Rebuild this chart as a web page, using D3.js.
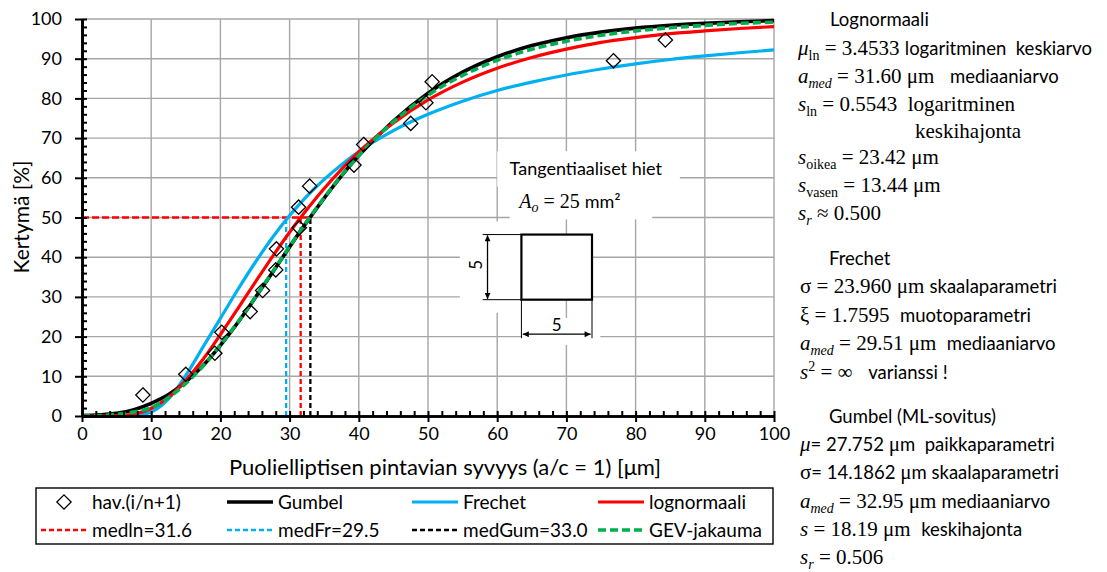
<!DOCTYPE html>
<html>
<head>
<meta charset="utf-8">
<script src="https://cdn.jsdelivr.net/npm/d3@7"></script>
<style>
  body { margin: 0; background: #fff; }
  text { white-space: pre; }
</style>
</head>
<body>
<div id="chart"></div>
<script>
// data
var depth   = [0, 2.5, 5, 7.5, 10, 12.5, 15, 17.5, 20, 22.5, 25, 27.5, 30, 32.5, 35, 37.5, 40, 45, 50, 55, 60, 65, 70, 75, 80, 85, 90, 95, 100];
var gumbel  = [0.1, 0.3, 0.7, 1.6, 3.2, 5.4, 8.6, 12.7, 17.8, 23.5, 29.7, 36.1, 42.6, 48.9, 54.9, 60.5, 65.6, 74.3, 81.3, 86.6, 90.5, 93.3, 95.3, 96.7, 97.7, 98.4, 98.9, 99.3, 99.6];
var frechet = [0, 0, 0, 0.1, 1.0, 4.3, 10.2, 17.4, 24.6, 31.8, 38.6, 44.9, 50.5, 55.4, 59.6, 63.3, 66.6, 71.9, 76.0, 79.3, 82.0, 84.1, 85.9, 87.4, 88.7, 89.8, 90.7, 91.5, 92.2];
var lognorm = [0, 0, 0.1, 0.5, 1.9, 4.7, 9.0, 14.3, 20.5, 27.0, 33.6, 40.1, 46.3, 52.0, 57.3, 62.1, 66.5, 73.8, 79.6, 84.1, 87.6, 90.3, 92.4, 94.1, 95.3, 96.3, 97.0, 97.6, 98.1];
var gev     = [0, 0.1, 0.4, 1.0, 2.1, 4.6, 8.2, 12.6, 17.9, 23.6, 29.8, 36.2, 42.7, 49.0, 55.0, 60.6, 65.6, 74.1, 80.8, 85.8, 89.6, 92.4, 94.4, 95.9, 97.0, 97.8, 98.4, 98.9, 99.2];

var obsDepth = [8.8, 15.0, 19.2, 20.2, 24.3, 26.1, 28.0, 28.1, 31.4, 31.3, 32.9, 39.3, 40.7, 47.5, 49.7, 50.6, 76.8, 84.3];
var obsCdf   = [5.3, 10.5, 15.8, 21.1, 26.3, 31.6, 36.8, 42.1, 47.4, 52.6, 57.9, 63.2, 68.4, 73.7, 78.9, 84.2, 89.5, 94.7];

var medNames  = ["medln", "medFr", "medGum"];
var medValues = [31.6, 29.5, 33.0];
var medLevel  = 50;

var xTicks = [0, 10, 20, 30, 40, 50, 60, 70, 80, 90, 100];
var yTicks = [0, 10, 20, 30, 40, 50, 60, 70, 80, 90, 100];

var legendLabels = ["hav.(i/n+1)", "Gumbel", "Frechet", "lognormaali",
                    "medln=31.6", "medFr=29.5", "medGum=33.0", "GEV-jakauma"];

// colours / fonts
var cBlack = "#000000", cBlue = "#00b0f0", cRed = "#ff0000", cGreen = "#00b050";
var sans = "Lato, 'Open Sans', sans-serif";
var serif = "'Liberation Serif', 'DejaVu Serif', serif";

// set the dimensions and margins of the graph
var margin = {top: 19, right: 333, bottom: 156, left: 82},
    width = 1107 - margin.left - margin.right,
    height = 572 - margin.top - margin.bottom;

var root = d3.select("#chart")
  .append("svg")
    .attr("width", 1107)
    .attr("height", 572);

var svg = root.append("g")
    .attr("transform", "translate(" + margin.left + "," + margin.top + ")");

var x = d3.scaleLinear().domain([0, 100]).range([0, width]);
var y = d3.scaleLinear().domain([0, 100]).range([height, 0]);

// arrow head for the little sketch
var defs = root.append("defs");
defs.append("marker")
    .attr("id", "arr")
    .attr("viewBox", "0 0 10 10")
    .attr("refX", 10).attr("refY", 5)
    .attr("markerWidth", 9).attr("markerHeight", 6)
    .attr("markerUnits", "userSpaceOnUse")
    .attr("orient", "auto-start-reverse")
  .append("path")
    .attr("d", "M0,0L10,5L0,10z")
    .attr("fill", "#000");

// grid
var grid = svg.append("g");
grid.selectAll("line.v").data(xTicks.slice(1)).enter().append("line")
    .attr("x1", function(d) { return x(d); }).attr("x2", function(d) { return x(d); })
    .attr("y1", 0).attr("y2", height)
    .attr("stroke", "#a6a6a6").attr("stroke-width", 1.4);
grid.selectAll("line.h").data(yTicks.slice(1)).enter().append("line")
    .attr("x1", 0).attr("x2", width)
    .attr("y1", function(d) { return y(d); }).attr("y2", function(d) { return y(d); })
    .attr("stroke", "#a6a6a6").attr("stroke-width", 1.4);

// white patches of the inset (cover grid)
var patches = [[60.0, 66.7, 86.4, 57.8], [61.8, 57.9, 82.4, 49.5], [54.6, 49.0, 63.5, 26.0], [63.5, 24.7, 74.9, 17.9]];
svg.append("g").selectAll("rect").data(patches).enter().append("rect")
    .attr("x", function(d) { return x(d[0]); })
    .attr("y", function(d) { return y(d[1]); })
    .attr("width", function(d) { return x(d[2]) - x(d[0]); })
    .attr("height", function(d) { return y(d[3]) - y(d[1]); })
    .attr("fill", "#fff");

// inset sketch
var ins = svg.append("g").attr("font-family", sans).attr("fill", "#000");
ins.append("text")
    .attr("x", x(72.8)).attr("y", y(60.6))
    .attr("text-anchor", "middle")
    .style("font-size", "18px")
    .text("Tangentiaaliset hiet");
var ao = ins.append("text")
    .attr("x", x(70.5)).attr("y", y(52.4))
    .attr("text-anchor", "middle")
    .style("font-size", "20px");
ao.append("tspan").attr("font-family", serif).attr("font-style", "italic").text("A");
ao.append("tspan").attr("font-family", serif).attr("font-style", "italic").style("font-size", "14px").attr("dy", 4).text("o");
ao.append("tspan").attr("font-family", serif).attr("dy", -4).text(" = 25 ");
ao.append("tspan").attr("font-family", sans).style("font-size", "18px").text("mm²");

ins.append("rect")
    .attr("x", x(63.5)).attr("y", y(45.7))
    .attr("width", x(73.7) - x(63.5)).attr("height", y(29.3) - y(45.7))
    .attr("fill", "#fff").attr("stroke", "#000").attr("stroke-width", 2.2);
var dims = [
  [57.9, 45.7, 63.5, 45.7], [57.9, 29.3, 63.5, 29.3],
  [63.5, 29.3, 63.5, 19.6], [73.7, 29.3, 73.7, 19.6]
];
ins.selectAll("line.ext").data(dims).enter().append("line")
    .attr("x1", function(d) { return x(d[0]); }).attr("y1", function(d) { return y(d[1]); })
    .attr("x2", function(d) { return x(d[2]); }).attr("y2", function(d) { return y(d[3]); })
    .attr("stroke", "#000").attr("stroke-width", 1);
var arrows = [[58.6, 45.5, 58.6, 29.5], [63.7, 20.6, 73.5, 20.6]];
ins.selectAll("line.arr").data(arrows).enter().append("line")
    .attr("x1", function(d) { return x(d[0]); }).attr("y1", function(d) { return y(d[1]); })
    .attr("x2", function(d) { return x(d[2]); }).attr("y2", function(d) { return y(d[3]); })
    .attr("stroke", "#000").attr("stroke-width", 1.3)
    .attr("marker-start", "url(#arr)").attr("marker-end", "url(#arr)");
ins.append("text")
    .attr("transform", "translate(" + (x(57.0) + 6) + "," + y(38.1) + ") rotate(-90)")
    .attr("text-anchor", "middle")
    .style("font-size", "17px")
    .text("5");
ins.append("text")
    .attr("x", x(68.6)).attr("y", y(23.0) + 6)
    .attr("text-anchor", "middle")
    .style("font-size", "17px")
    .text("5");

// median lines
var medColors = [cRed, cBlue, cBlack];
svg.append("line")
    .attr("x1", x(0)).attr("x2", x(d3.max(medValues)))
    .attr("y1", y(medLevel)).attr("y2", y(medLevel))
    .attr("stroke", cRed).attr("stroke-width", 2.3).attr("stroke-dasharray", "7,3");
svg.append("g").selectAll("line").data(medValues).enter().append("line")
    .attr("x1", function(d) { return x(d); }).attr("x2", function(d) { return x(d); })
    .attr("y1", y(0)).attr("y2", y(medLevel))
    .attr("stroke", function(d, i) { return medColors[i]; })
    .attr("stroke-width", 2.3).attr("stroke-dasharray", "5,3");

// curves
var line = d3.line()
    .x(function(d) { return x(d[0]); })
    .y(function(d) { return y(d[1]); })
    .curve(d3.curveMonotoneX);
var curves = [
  {v: frechet, c: cBlue,  w: 3.2, dash: null},
  {v: gumbel,  c: cBlack, w: 3.6, dash: null},
  {v: lognorm, c: cRed,   w: 3.2, dash: null},
  {v: gev,     c: cGreen, w: 3.6, dash: "8,4"}
];
curves.forEach(function(cv) {
  svg.append("path")
    .datum(depth.map(function(d, i) { return [d, cv.v[i]]; }))
    .attr("fill", "none")
    .attr("stroke", cv.c)
    .attr("stroke-width", cv.w)
    .attr("stroke-dasharray", cv.dash)
    .attr("d", line);
});

// observations
var diamond = d3.symbol().type(d3.symbolDiamond2).size(130);
svg.append("g").selectAll("path").data(obsDepth).enter().append("path")
    .attr("transform", function(d, i) { return "translate(" + x(d) + "," + y(obsCdf[i]) + ")"; })
    .attr("d", diamond)
    .attr("fill", "none")
    .attr("stroke", "#000")
    .attr("stroke-width", 1.3);

// axes
function styleAxis(g) {
  g.select(".domain").attr("stroke", "#000").attr("stroke-width", 2.6);
  g.selectAll(".tick line").attr("stroke", "#000").attr("stroke-width", 2);
  g.selectAll(".tick text").attr("fill", "#000").style("font-family", sans).style("font-size", "18px");
}
svg.append("g")
    .attr("transform", "translate(0," + height + ")")
    .call(d3.axisBottom(x).tickValues(d3.range(0, 101, 2)).tickSize(-5).tickSizeOuter(0).tickFormat(""))
    .call(styleAxis);
svg.append("g")
    .attr("transform", "translate(0," + height + ")")
    .call(d3.axisBottom(x).tickValues(xTicks).tickSize(6).tickSizeOuter(0).tickPadding(5))
    .call(styleAxis);
svg.append("g")
    .call(d3.axisLeft(y).tickValues(d3.range(0, 101, 2)).tickSize(-5).tickSizeOuter(0).tickFormat(""))
    .call(styleAxis);
svg.append("g")
    .call(d3.axisLeft(y).tickValues(yTicks).tickSize(7).tickSizeOuter(0).tickPadding(13))
    .call(styleAxis);

// axis titles
svg.append("text")
    .attr("x", 445 - margin.left)
    .attr("y", height + 59)
    .attr("text-anchor", "middle")
    .style("font-family", sans)
    .style("font-size", "22px")
    .text("Puolielliptisen pintavian syvyys (a/c = 1) [μm]");
svg.append("text")
    .attr("transform", "rotate(-90)")
    .attr("x", -(217 - margin.top))
    .attr("y", 29 - margin.left)
    .attr("text-anchor", "middle")
    .style("font-family", sans)
    .style("font-size", "21px")
    .text("Kertymä [%]");

// legend
var leg = root.append("g");
leg.append("rect")
    .attr("x", 36).attr("y", 488).attr("width", 737).attr("height", 56)
    .attr("fill", "#fff").attr("stroke", "#000").attr("stroke-width", 1.4);
var legStyle = [
  {c: "#000", w: 0, dash: null, mark: true},
  {c: cBlack, w: 3.6, dash: null},
  {c: cBlue, w: 3.2, dash: null},
  {c: cRed, w: 3.2, dash: null},
  {c: cRed, w: 2.3, dash: "5,3"},
  {c: cBlue, w: 2.3, dash: "5,3"},
  {c: cBlack, w: 2.3, dash: "5,3"},
  {c: cGreen, w: 3.6, dash: "8,4"}
];
var colX = [41, 227, 412, 598], rowY = [502, 530];
legendLabels.forEach(function(lab, i) {
  var cx = colX[i % 4], cy = rowY[Math.floor(i / 4)], st = legStyle[i];
  if (st.mark) {
    leg.append("path")
      .attr("transform", "translate(" + (cx + 23) + "," + cy + ")")
      .attr("d", diamond)
      .attr("fill", "none").attr("stroke", "#000").attr("stroke-width", 1.3);
  } else {
    leg.append("line")
      .attr("x1", cx).attr("x2", cx + 46).attr("y1", cy).attr("y2", cy)
      .attr("stroke", st.c).attr("stroke-width", st.w).attr("stroke-dasharray", st.dash);
  }
  leg.append("text")
    .attr("x", cx + 51).attr("y", cy + 6.5)
    .style("font-family", sans).style("font-size", "19px")
    .text(lab);
});

// parameter panel on the right
// codes: s = sans, r = serif, i = serif italic, b = subscript, bi = italic subscript, p = superscript
var panel = [
  {x: 830, y: 26,  segs: [["s", "Lognormaali"]]},
  {x: 798, y: 55,  segs: [["i", "μ"], ["b", "ln"], ["r", " = 3.4533 "], ["s", "logaritminen  keskiarvo"]]},
  {x: 798, y: 83,  segs: [["i", "a"], ["bi", "med"], ["r", " = 31.60 μm   "], ["s", "mediaaniarvo"]]},
  {x: 798, y: 111, segs: [["i", "s"], ["b", "ln"], ["r", " = 0.5543  logaritminen"]]},
  {x: 915, y: 138, segs: [["r", "keskihajonta"]]},
  {x: 798, y: 164, segs: [["i", "s"], ["b", "oikea"], ["r", " = 23.42 μm"]]},
  {x: 798, y: 192, segs: [["i", "s"], ["b", "vasen"], ["r", " = 13.44 μm"]]},
  {x: 798, y: 220, segs: [["i", "s"], ["bi", "r"], ["r", " ≈ 0.500"]]},
  {x: 829, y: 265, segs: [["s", "Frechet"]]},
  {x: 800, y: 293, segs: [["r", "σ = 23.960 μm "], ["s", "skaalaparametri"]]},
  {x: 800, y: 322, segs: [["r", "ξ = 1.7595  "], ["s", "muotoparametri"]]},
  {x: 800, y: 350, segs: [["i", "a"], ["bi", "med"], ["r", " = 29.51 μm  "], ["s", "mediaaniarvo"]]},
  {x: 800, y: 379, segs: [["i", "s"], ["p", "2"], ["r", " = ∞   "], ["s", "varianssi !"]]},
  {x: 829, y: 423, segs: [["s", "Gumbel (ML-sovitus)"]]},
  {x: 800, y: 451, segs: [["i", "μ"], ["s", "= 27.752 "], ["r", "μ"], ["s", "m  paikkaparametri"]]},
  {x: 800, y: 479, segs: [["r", "σ"], ["s", "= 14.1862 "], ["r", "μ"], ["s", "m skaalaparametri"]]},
  {x: 800, y: 508, segs: [["i", "a"], ["bi", "med"], ["r", " = 32.95 μm "], ["s", "mediaaniarvo"]]},
  {x: 800, y: 536, segs: [["i", "s"], ["r", " = 18.19 μm  "], ["s", "keskihajonta"]]},
  {x: 800, y: 564, segs: [["i", "s"], ["bi", "r"], ["r", " = 0.506"]]}
];
var pg = root.append("g").attr("fill", "#000");
panel.forEach(function(ln) {
  var t = pg.append("text").attr("x", ln.x).attr("y", ln.y);
  var shift = 0;
  ln.segs.forEach(function(s) {
    var ts = t.append("tspan").text(s[1]);
    var target = 0;
    if (s[0] === "s") {
      ts.style("font-family", sans).style("font-size", "18.5px");
    } else if (s[0] === "b" || s[0] === "bi") {
      ts.style("font-family", serif).style("font-size", "14px");
      if (s[0] === "bi") ts.style("font-style", "italic");
      target = 5;
    } else if (s[0] === "p") {
      ts.style("font-family", serif).style("font-size", "14px");
      target = -8;
    } else {
      ts.style("font-family", serif).style("font-size", "21px");
      if (s[0] === "i") ts.style("font-style", "italic");
    }
    if (target !== shift) { ts.attr("dy", target - shift); shift = target; }
  });
});
</script>
</body>
</html>
